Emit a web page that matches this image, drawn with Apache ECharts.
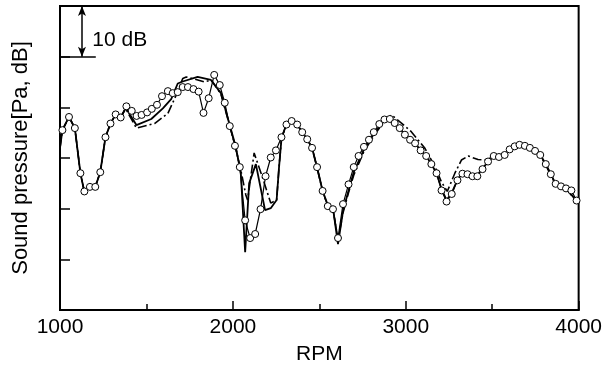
<!DOCTYPE html>
<html>
<head>
<meta charset="utf-8">
<script src="https://cdn.jsdelivr.net/npm/echarts@6/dist/echarts.min.js"></script>
<style>html,body{margin:0;padding:0;background:#fff;}#c{width:605px;height:371px;}</style>
</head>
<body>
<div id="c"></div>
<script>
// X ticks: 1000..4000 RPM, Y: dB (no tick labels, 10 dB per division)
const xTicks = [1000, 2000, 3000, 4000];

// Circle-marker series
const rpmCircle = [1014,1052,1086,1118,1141,1173,1204,1233,1263,1292,1322,1351,1384,1415,1443,1472,1504,1531,1561,1590,1624,1652,1681,1710,1740,1772,1802,1830,1860,1892,1924,1953,1982,2012,2040,2071,2100,2129,2160,2189,2219,2249,2281,2310,2340,2372,2401,2430,2458,2487,2519,2549,2579,2608,2637,2669,2699,2727,2758,2787,2815,2847,2877,2908,2936,2965,2995,3025,3054,3086,3118,3148,3178,3207,3236,3266,3299,3328,3357,3386,3414,3444,3476,3509,3539,3572,3601,3630,3658,3689,3718,3748,3778,3810,3839,3867,3898,3927,3958,3988];
const dbCircle = [35.5,38.1,35.9,27.0,23.4,24.3,24.3,27.2,34.1,36.8,38.6,38.0,40.2,39.3,38.3,38.5,39.0,39.7,40.5,42.2,43.2,42.8,43.0,44.0,44.0,43.6,43.1,38.9,41.8,46.4,44.4,40.9,36.3,32.4,28.2,17.7,14.2,15.0,19.9,26.4,30.1,31.5,34.1,36.6,37.3,36.6,35.1,33.7,32.0,28.2,23.5,20.5,19.9,14.2,20.9,24.8,28.2,30.4,32.2,33.6,35.1,36.7,37.6,37.7,36.9,35.9,34.6,33.6,32.9,31.5,30.4,28.8,27.0,23.6,21.4,22.9,25.6,26.9,26.8,26.4,26.4,27.8,29.3,30.4,30.2,30.6,31.7,32.3,32.6,32.4,32.0,31.4,30.6,28.8,26.8,24.9,24.4,24.0,23.6,21.6];

// Solid line series
const rpmSolid = [1000,1014,1052,1086,1118,1141,1173,1204,1233,1263,1292,1322,1351,1380,1442,1528,1595,1643,1681,1710,1796,1873,1931,1979,2017,2046,2071,2094,2133,2171,2186,2219,2253,2267,2282,2310,2340,2372,2401,2430,2458,2487,2519,2549,2579,2608,2638,2670,2699,2757,2814,2877,2912,2936,2965,2995,3025,3054,3086,3118,3148,3178,3207,3236,3266,3299,3328,3357,3386,3414,3444,3509,3572,3630,3658,3718,3778,3810,3839,3867,3927,3988];
const dbSolid = [32.0,35.5,38.1,35.9,27.0,23.3,24.3,24.3,27.2,34.1,36.8,38.6,38.0,39.9,36.5,37.7,39.8,41.6,44.7,45.1,46.0,45.4,42.8,36.8,32.2,27.0,11.4,25.0,28.8,22.3,19.7,20.1,21.7,28.2,34.1,36.6,37.4,36.6,35.1,33.7,32.0,28.2,23.5,20.7,20.1,13.0,19.7,23.7,27.2,31.6,34.7,37.5,37.9,36.9,35.9,34.6,33.6,32.9,31.5,30.4,28.8,27.0,23.9,21.7,23.1,25.7,27.2,26.9,26.6,26.6,28.0,30.4,30.8,32.4,32.8,32.2,30.6,28.8,26.8,24.9,24.1,21.5];

// Dash-dot line series
const rpmDash = [1000,1014,1052,1086,1118,1141,1173,1204,1233,1263,1292,1322,1351,1380,1442,1547,1624,1672,1710,1730,1777,1835,1875,1931,1979,2019,2046,2075,2085,2123,2171,2219,2253,2267,2282,2313,2341,2372,2401,2430,2458,2487,2519,2549,2579,2608,2638,2670,2699,2757,2814,2877,2917,2975,3032,3111,3169,3206,3240,3284,3322,3361,3418,3459,3514,3572,3630,3658,3718,3778,3810,3839,3867,3927,3988];
const dbDash = [32.0,35.5,38.1,35.9,27.0,23.3,24.3,24.3,27.2,34.1,36.8,38.6,38.0,39.7,35.9,36.8,38.8,42.4,45.7,46.0,45.6,45.0,45.4,42.6,36.7,31.6,27.6,22.7,21.7,31.0,26.2,21.1,21.7,28.2,34.1,36.5,37.5,36.6,35.1,33.7,32.0,28.0,23.5,20.5,19.9,13.8,19.3,23.3,26.6,31.2,34.3,37.3,38.5,36.9,35.2,31.9,28.3,25.3,23.4,27.0,29.6,30.4,29.7,29.6,30.3,30.8,32.4,32.7,32.1,30.5,28.6,26.6,24.7,23.9,21.5];

// Scale annotation (10 dB bar)
const scaleRpm = 1127, scaleTop = 60, scaleBottom = 50, scaleLineEnd = 1207;
const scaleText = '10 dB', scaleTextRpm = 1184, scaleTextDb = 53.3;

const zip = (a, b) => a.map((v, i) => [v, b[i]]);
const FONT = '"Liberation Sans", Arial, Helvetica, sans-serif';

const chart = echarts.init(document.getElementById('c'), null, {renderer: 'canvas'});
chart.setOption({
  animation: false,
  backgroundColor: '#fff',
  grid: {left: 60, right: 23, top: 6, bottom: 61, show: true, borderColor: '#000', borderWidth: 2, backgroundColor: 'transparent'},
  xAxis: {
    type: 'value', min: xTicks[0], max: xTicks[xTicks.length - 1], interval: 1000,
    name: 'RPM', nameLocation: 'middle', nameGap: 34,
    nameTextStyle: {fontFamily: FONT, fontSize: 21, color: '#000'},
    axisLine: {show: true, lineStyle: {color: '#000', width: 2}},
    axisTick: {show: true, inside: true, length: 9, lineStyle: {color: '#000', width: 1.5}},
    minorTick: {show: true, splitNumber: 2, length: 6, lineStyle: {color: '#000', width: 1.5}},
    splitLine: {show: false}, minorSplitLine: {show: false},
    axisLabel: {fontFamily: FONT, fontSize: 21, color: '#000', margin: 7, showMinLabel: true, showMaxLabel: true,
      formatter: v => String(v)}
  },
  yAxis: {
    type: 'value', min: 0, max: 60, interval: 10,
    name: 'Sound pressure[Pa, dB]', nameLocation: 'middle', nameGap: 28,
    nameTextStyle: {fontFamily: FONT, fontSize: 22, color: '#000'},
    axisLine: {show: true, lineStyle: {color: '#000', width: 2}},
    axisTick: {show: true, inside: true, length: 10, lineStyle: {color: '#000', width: 1.5}},
    axisLabel: {show: false},
    splitLine: {show: false}
  },
  series: [
    {
      type: 'line', name: 'dashdot', data: zip(rpmDash, dbDash), showSymbol: false, symbol: 'none',
      lineStyle: {color: '#000', width: 1.6, type: [9, 3, 2, 3]}, z: 2
    },
    {
      type: 'line', name: 'solid', data: zip(rpmSolid, dbSolid), showSymbol: false, symbol: 'none',
      lineStyle: {color: '#000', width: 1.8}, z: 3,
      markLine: {
        silent: true, symbol: ['arrow', 'arrow'], symbolSize: [6, 10],
        lineStyle: {color: '#000', width: 1.5, type: 'solid'}, label: {show: false},
        data: [
          [{coord: [scaleRpm, scaleTop]}, {coord: [scaleRpm, scaleBottom]}],
          [{coord: [xTicks[0], scaleBottom], symbol: 'none'}, {coord: [scaleLineEnd, scaleBottom], symbol: 'none'}]
        ]
      },
      markPoint: {
        silent: true, symbol: 'circle', symbolSize: 1, itemStyle: {color: 'rgba(0,0,0,0)'},
        label: {show: true, position: 'right', distance: 0, formatter: scaleText, fontFamily: FONT, fontSize: 21, color: '#000'},
        data: [{coord: [scaleTextRpm, scaleTextDb]}]
      }
    },
    {
      type: 'line', name: 'circles', data: zip(rpmCircle, dbCircle), symbol: 'circle', symbolSize: 7, showSymbol: true,
      itemStyle: {color: '#fff', borderColor: '#000', borderWidth: 1},
      lineStyle: {color: '#000', width: 1.2}, z: 4
    }
  ]
});
</script>
</body>
</html>
